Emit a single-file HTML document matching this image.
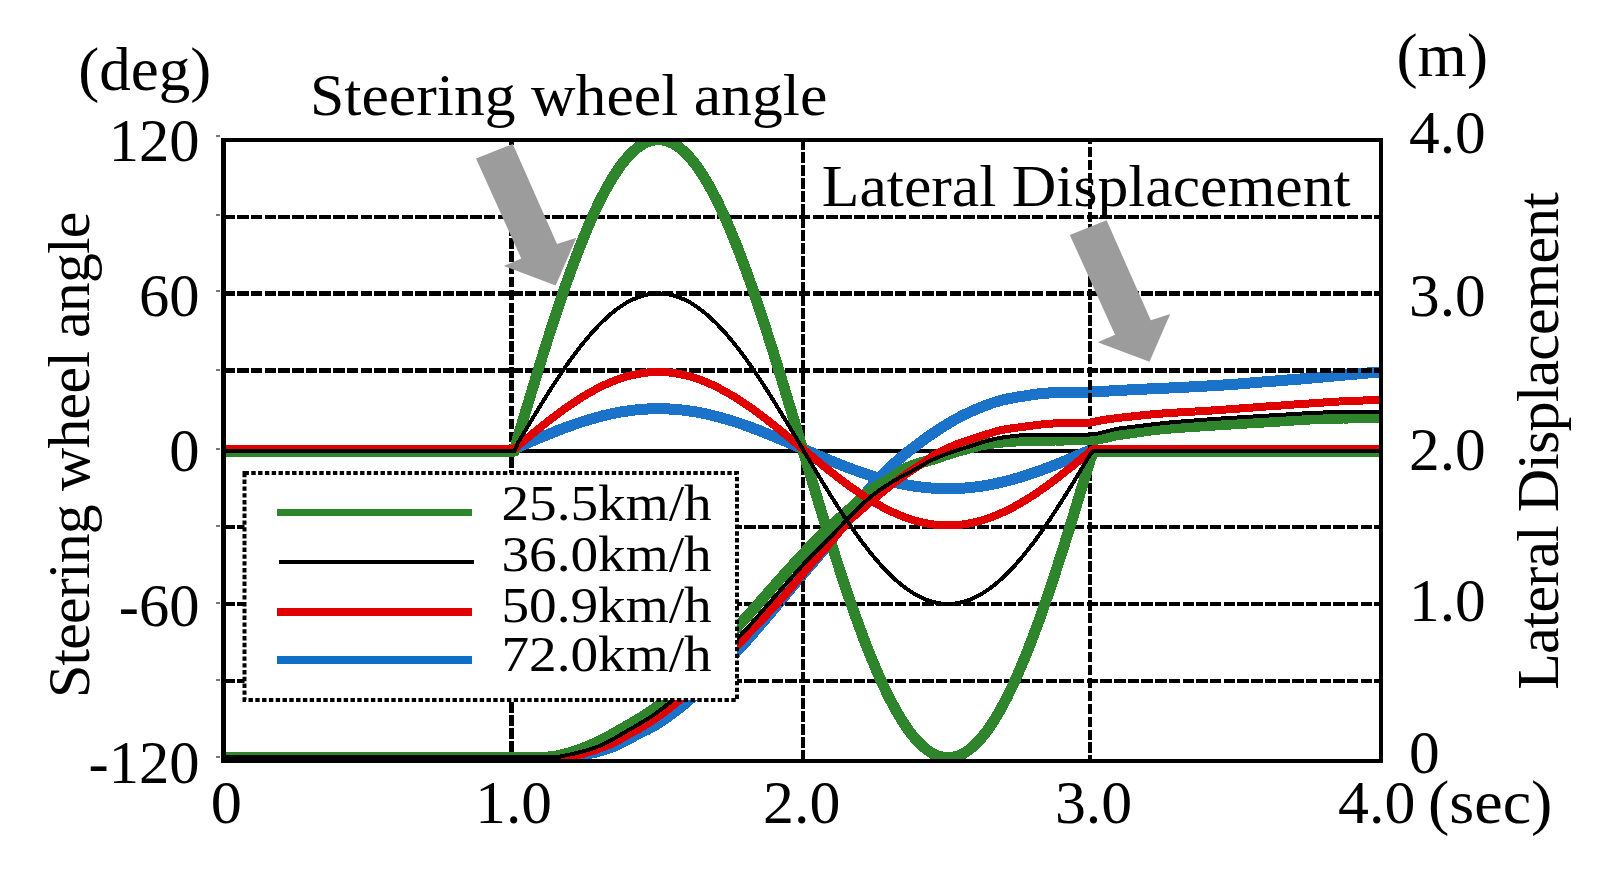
<!DOCTYPE html>
<html lang="en"><head><meta charset="utf-8"><title>Steering wheel angle and lateral displacement</title>
<style>
html,body{margin:0;padding:0;background:#fff;}
body{width:1610px;height:876px;overflow:hidden;}
svg{display:block;}
text{font-family:"Liberation Serif","Times New Roman",serif;fill:#000;}
.t{font-size:60px;}
.lg{font-size:50px;}
.ln{fill:none;stroke-linejoin:round;stroke-linecap:butt;shape-rendering:crispEdges;}
</style></head><body>
<svg width="1610" height="876" viewBox="0 0 1610 876">
<rect x="0" y="0" width="1610" height="876" fill="#fff"/>
<defs><clipPath id="pc"><rect x="223.5" y="140" width="1157.5" height="621"/></clipPath></defs>
<line x1="223.5" y1="451.0" x2="1381.0" y2="451.0" stroke="#000" stroke-width="4" shape-rendering="crispEdges"/>
<g clip-path="url(#pc)">
<polyline class="ln" stroke="#1a72c9" stroke-width="11" points="223.5,757.0 227.5,757.0 231.5,757.0 235.5,757.0 239.5,757.0 243.5,757.0 247.5,757.0 251.5,757.0 255.5,757.0 259.5,757.0 263.5,757.0 267.5,757.0 271.5,757.0 275.5,757.0 279.5,757.0 283.5,757.0 287.5,757.0 291.5,757.0 295.5,757.0 299.5,757.0 303.5,757.0 307.5,757.0 311.5,757.0 315.5,757.0 319.5,757.0 323.5,757.0 327.5,757.0 331.5,757.0 335.5,757.0 339.5,757.0 343.5,757.0 347.5,757.0 351.5,757.0 355.5,757.0 359.5,757.0 363.5,757.0 367.5,757.0 371.5,757.0 375.5,757.0 379.5,757.0 383.5,757.0 387.5,757.0 391.5,757.0 395.5,757.0 399.5,757.0 403.5,757.0 407.5,757.0 411.5,757.0 415.5,757.0 419.5,757.0 423.5,757.0 427.5,757.0 431.5,757.0 435.5,757.0 439.5,757.0 443.5,757.0 447.5,757.0 451.5,757.0 455.5,757.0 459.5,757.0 463.5,757.0 467.5,757.0 471.5,757.0 475.5,757.0 479.5,757.0 483.5,757.0 487.5,757.0 491.5,757.0 495.5,757.0 499.5,757.0 503.5,757.0 507.5,757.0 511.5,757.0 515.5,757.0 519.5,757.0 523.5,757.0 527.5,757.0 531.5,757.0 535.5,757.0 539.5,757.0 543.5,757.0 547.5,757.0 551.5,757.0 555.5,757.0 559.5,757.0 563.5,757.0 567.5,757.0 570.0,757.0 571.5,757.0 575.5,756.5 579.5,755.7 583.5,754.8 585.0,754.5 587.5,754.0 591.5,753.1 595.5,752.1 599.5,751.0 603.5,749.8 607.5,748.5 611.5,747.2 612.0,747.0 615.5,745.6 619.5,743.8 623.5,741.8 627.5,739.7 631.5,737.5 635.5,735.3 639.5,733.3 640.0,733.0 643.5,731.3 647.5,729.4 651.5,727.3 652.0,727.0 655.5,724.9 659.5,722.5 663.5,719.8 667.5,717.0 671.5,714.1 675.5,711.1 679.5,708.0 682.0,706.0 683.5,704.8 687.5,701.4 691.5,697.9 695.5,694.2 699.5,690.4 703.5,686.5 707.5,682.5 711.5,678.4 715.5,674.2 719.5,670.0 723.5,665.7 727.5,661.4 731.5,657.1 735.5,652.8 739.0,649.0 739.5,648.5 743.5,644.1 747.5,639.7 751.5,635.1 755.5,630.6 759.5,625.9 763.5,621.2 767.5,616.5 771.5,611.8 775.5,607.0 779.5,602.2 783.5,597.4 787.5,592.5 791.5,587.7 795.5,582.9 799.5,578.2 803.0,574.0 803.5,573.4 807.5,568.7 811.5,564.1 815.5,559.4 819.5,554.7 823.5,549.9 827.5,544.9 829.0,543.0 831.5,539.7 835.5,534.3 839.5,528.8 843.5,523.2 847.5,517.7 848.0,517.0 851.5,512.2 855.5,506.8 859.5,501.3 863.5,496.1 867.5,491.1 867.6,491.0 871.5,486.4 875.5,481.9 879.5,477.6 883.5,473.5 887.0,470.0 887.5,469.5 891.5,465.8 895.5,462.2 899.5,458.8 903.5,455.4 906.4,453.0 907.5,452.1 911.4,449.0 911.5,448.9 915.5,445.9 919.5,442.9 923.5,439.9 927.5,437.1 931.5,434.3 934.2,432.5 935.5,431.6 939.5,429.0 943.5,426.4 947.5,424.0 951.5,421.6 955.5,419.3 957.0,418.5 959.5,417.2 963.5,415.1 967.5,413.2 971.5,411.3 975.5,409.5 979.5,407.9 979.9,407.7 983.5,406.3 987.5,404.8 991.5,403.3 995.5,402.0 999.5,400.8 1002.7,400.0 1003.5,399.8 1007.5,398.9 1011.5,398.1 1015.5,397.4 1019.5,396.7 1023.5,396.1 1025.5,395.8 1027.5,395.5 1031.5,394.9 1035.5,394.3 1039.5,393.8 1043.5,393.4 1047.5,393.1 1048.4,393.0 1051.5,392.8 1055.5,392.7 1059.5,392.5 1063.5,392.4 1065.0,392.4 1067.5,392.3 1071.5,392.3 1075.5,392.2 1079.5,392.2 1083.5,392.1 1087.5,392.1 1090.0,392.0 1091.5,392.0 1095.5,391.8 1099.5,391.6 1103.5,391.3 1107.5,391.1 1111.5,390.8 1115.5,390.6 1118.5,390.4 1119.5,390.3 1123.5,390.1 1127.5,390.0 1131.5,389.8 1135.5,389.6 1139.5,389.4 1143.5,389.2 1147.5,389.0 1151.5,388.9 1155.5,388.7 1159.5,388.5 1163.5,388.3 1167.5,388.1 1171.5,387.9 1175.5,387.7 1179.5,387.5 1180.0,387.5 1183.5,387.3 1187.5,387.1 1191.5,386.9 1195.5,386.7 1199.5,386.4 1203.5,386.2 1207.5,386.0 1211.5,385.7 1215.5,385.5 1219.5,385.3 1223.5,385.0 1227.5,384.7 1228.0,384.7 1231.5,384.5 1235.5,384.2 1239.5,383.9 1243.5,383.5 1247.5,383.2 1251.5,382.9 1255.5,382.6 1259.5,382.2 1263.5,381.9 1264.8,381.8 1267.5,381.6 1271.5,381.3 1275.5,381.0 1279.5,380.7 1283.5,380.3 1287.5,380.0 1291.5,379.7 1295.5,379.4 1299.5,379.1 1301.4,378.9 1303.5,378.7 1307.5,378.4 1311.5,378.0 1315.5,377.6 1319.5,377.3 1323.5,376.9 1327.5,376.5 1331.5,376.2 1335.5,375.8 1339.5,375.4 1340.0,375.4 1343.5,375.1 1347.5,374.7 1351.5,374.4 1355.5,374.1 1359.5,373.7 1363.5,373.4 1367.5,373.0 1371.5,372.7 1375.5,372.4 1379.5,372.0 1381.0,371.9"/>
<polyline class="ln" stroke="#1a72c9" stroke-width="11" points="223.5,450.5 514.5,450.5 518.1,447.1 521.7,445.6 525.3,444.0 529.0,442.4 532.6,440.9 536.2,439.4 539.8,437.8 543.4,436.3 547.0,434.9 550.6,433.4 554.2,432.0 557.8,430.5 561.4,429.2 565.0,427.8 568.6,426.5 572.2,425.2 575.8,423.9 579.4,422.7 583.0,421.5 586.6,420.4 590.2,419.3 593.8,418.3 597.4,417.3 601.0,416.3 604.6,415.4 608.2,414.6 611.7,413.8 615.3,413.1 618.9,412.4 622.5,411.7 626.1,411.2 629.7,410.7 633.3,410.2 636.9,409.8 640.5,409.5 644.1,409.2 647.7,409.0 651.3,408.8 654.9,408.7 658.5,408.7 662.1,408.7 665.7,408.8 669.3,409.0 672.9,409.2 676.5,409.5 680.1,409.8 683.7,410.2 687.3,410.7 690.9,411.2 694.5,411.7 698.1,412.4 701.7,413.1 705.2,413.8 708.8,414.6 712.4,415.4 716.0,416.3 719.6,417.3 723.2,418.3 726.8,419.3 730.4,420.4 734.0,421.5 737.6,422.7 741.2,423.9 744.8,425.2 748.4,426.5 752.0,427.8 755.6,429.2 759.2,430.5 762.8,432.0 766.4,433.4 770.0,434.9 773.6,436.3 777.2,437.8 780.8,439.4 784.4,440.9 788.0,442.4 791.7,444.0 795.3,445.6 798.9,447.1 802.5,448.7 806.1,450.3 809.7,451.8 813.4,453.4 817.0,455.0 820.6,456.5 824.2,458.0 827.9,459.6 831.5,461.1 835.1,462.5 838.8,464.0 842.4,465.4 846.0,466.9 849.7,468.2 853.3,469.6 857.0,470.9 860.6,472.2 864.2,473.5 867.9,474.7 871.5,475.9 875.2,477.0 878.8,478.1 882.4,479.1 886.1,480.1 889.7,481.1 893.4,482.0 897.0,482.8 900.7,483.6 904.3,484.3 907.9,485.0 911.6,485.7 915.2,486.2 918.9,486.7 922.5,487.2 926.2,487.6 929.8,487.9 933.4,488.2 937.1,488.4 940.7,488.6 944.4,488.7 948.0,488.7 951.6,488.7 955.3,488.6 958.9,488.4 962.6,488.2 966.2,487.9 969.8,487.6 973.5,487.2 977.1,486.7 980.8,486.2 984.4,485.7 988.1,485.0 991.7,484.3 995.3,483.6 999.0,482.8 1002.6,482.0 1006.3,481.1 1009.9,480.1 1013.6,479.1 1017.2,478.1 1020.8,477.0 1024.5,475.9 1028.1,474.7 1031.8,473.5 1035.4,472.2 1039.1,470.9 1042.7,469.6 1046.3,468.2 1050.0,466.9 1053.6,465.4 1057.2,464.0 1060.9,462.5 1064.5,461.1 1068.1,459.6 1071.8,458.0 1075.4,456.5 1079.0,455.0 1082.6,453.4 1086.3,451.8 1089.9,450.3 1093.5,450.5 1381.0,450.5"/>
</g>
<g stroke="#000" stroke-width="4" fill="none" shape-rendering="crispEdges">
<line x1="223.5" y1="217" x2="1379" y2="217" stroke-width="4" stroke-dasharray="11.5 2.2"/>
<line x1="223.5" y1="293.5" x2="1379" y2="293.5" stroke-width="5" stroke-dasharray="11.5 2.2"/>
<line x1="223.5" y1="370.5" x2="1379" y2="370.5" stroke-width="5" stroke-dasharray="11.5 2.2"/>
<line x1="223.5" y1="527" x2="1379" y2="527" stroke-width="4" stroke-dasharray="11.5 2.2"/>
<line x1="223.5" y1="604" x2="1379" y2="604" stroke-width="4" stroke-dasharray="11.5 2.2"/>
<line x1="223.5" y1="681" x2="1379" y2="681" stroke-width="4" stroke-dasharray="11.5 2.2"/>
<line x1="511.5" y1="139.5" x2="511.5" y2="759" stroke-width="5" stroke-dasharray="10.6 2.3" stroke-dashoffset="4.7"/>
<line x1="803" y1="139.5" x2="803" y2="759" stroke-width="4" stroke-dasharray="10.8 2.2" stroke-dashoffset="0.3"/>
<line x1="1090" y1="139.5" x2="1090" y2="759" stroke-width="4" stroke-dasharray="10.5 2.45" stroke-dashoffset="5.7"/>
</g>
<polygon fill="#9c9c9c" points="512.8,144.0 476.0,158.6 521.2,258.4 503.9,266.0 555.7,285.4 576.4,237.7 557.0,243.9"/>
<polygon fill="#9c9c9c" points="1106.6,220.3 1069.8,234.9 1115.0,334.7 1097.7,342.3 1149.5,361.7 1170.2,314.0 1150.8,320.2"/>
<g clip-path="url(#pc)">
<polyline class="ln" stroke="#2e852b" stroke-width="11" points="223.5,757.0 227.5,757.0 231.5,757.0 235.5,757.0 239.5,757.0 243.5,757.0 247.5,757.0 251.5,757.0 255.5,757.0 259.5,757.0 263.5,757.0 267.5,757.0 271.5,757.0 275.5,757.0 279.5,757.0 283.5,757.0 287.5,757.0 291.5,757.0 295.5,757.0 299.5,757.0 303.5,757.0 307.5,757.0 311.5,757.0 315.5,757.0 319.5,757.0 323.5,757.0 327.5,757.0 331.5,757.0 335.5,757.0 339.5,757.0 343.5,757.0 347.5,757.0 351.5,757.0 355.5,757.0 359.5,757.0 363.5,757.0 367.5,757.0 371.5,757.0 375.5,757.0 379.5,757.0 383.5,757.0 387.5,757.0 391.5,757.0 395.5,757.0 399.5,757.0 403.5,757.0 407.5,757.0 411.5,757.0 415.5,757.0 419.5,757.0 423.5,757.0 427.5,757.0 431.5,757.0 435.5,757.0 439.5,757.0 443.5,757.0 447.5,757.0 451.5,757.0 455.5,757.0 459.5,757.0 463.5,757.0 467.5,757.0 471.5,757.0 475.5,757.0 479.5,757.0 483.5,757.0 487.5,757.0 491.5,757.0 495.5,757.0 499.5,757.0 503.5,757.0 507.5,757.0 511.5,757.0 515.5,757.0 519.5,757.0 523.5,757.0 527.5,757.0 531.5,757.0 535.5,757.0 539.5,757.0 543.5,757.0 547.5,757.0 548.0,757.0 551.5,756.8 555.5,756.2 559.5,755.3 563.0,754.5 563.5,754.4 567.5,753.4 571.5,752.2 575.5,750.9 579.5,749.5 583.5,747.9 587.5,746.3 591.5,744.6 593.0,744.0 595.5,742.9 599.5,741.0 603.5,739.0 607.5,736.8 611.5,734.6 615.5,732.3 619.5,730.0 623.0,728.0 623.5,727.7 627.5,725.5 631.5,723.2 635.5,720.8 639.5,718.4 643.5,715.9 647.5,713.3 648.0,713.0 651.5,710.6 655.5,707.8 659.5,704.8 663.5,701.8 667.5,698.6 671.5,695.3 673.0,694.0 675.5,691.8 679.5,688.2 683.5,684.5 687.5,680.6 691.5,676.6 695.5,672.5 699.5,668.4 703.5,664.1 707.5,659.8 711.5,655.5 715.5,651.1 719.5,646.7 723.5,642.2 727.5,637.8 731.5,633.4 735.5,629.0 739.0,625.2 739.5,624.7 743.5,620.3 747.5,615.9 751.5,611.4 755.5,606.9 759.5,602.4 763.5,597.8 767.5,593.3 771.5,588.7 775.5,584.2 779.5,579.7 783.5,575.2 787.5,570.8 790.0,568.0 791.5,566.4 795.5,562.0 799.5,557.6 803.0,553.9 803.5,553.4 807.5,549.2 811.5,545.1 815.5,541.0 819.5,537.0 823.5,533.1 827.5,529.2 828.8,528.0 831.5,525.5 835.5,521.8 839.5,518.2 843.5,514.6 847.5,511.0 850.3,508.5 851.5,507.4 855.5,503.7 859.5,499.9 863.5,496.2 867.5,492.7 870.8,490.2 871.5,489.7 875.5,487.1 879.5,484.7 883.5,482.5 887.5,480.2 891.4,477.9 891.5,477.8 895.5,475.1 899.5,472.3 903.5,469.6 906.8,467.8 907.5,467.5 911.5,465.9 915.5,464.5 918.0,463.7 919.5,463.2 923.5,462.0 927.5,460.9 931.5,459.8 932.4,459.5 935.5,458.5 939.5,457.1 943.5,455.7 947.5,454.4 951.5,453.1 953.0,452.6 955.5,451.9 959.5,450.7 963.5,449.7 967.5,448.6 971.5,447.5 973.5,447.0 975.5,446.4 979.5,445.3 979.9,445.2 983.5,444.5 987.5,443.8 991.5,443.3 995.5,442.7 999.5,442.3 1002.7,442.0 1003.5,441.9 1007.5,441.6 1011.5,441.3 1015.5,441.0 1019.5,440.7 1023.5,440.6 1025.5,440.5 1027.5,440.5 1031.5,440.4 1035.5,440.3 1039.5,440.2 1043.5,440.2 1047.5,440.1 1051.5,440.1 1055.5,440.0 1059.5,440.0 1060.0,440.0 1063.5,440.0 1067.5,439.9 1071.5,439.9 1075.5,439.9 1079.5,439.9 1083.5,439.9 1087.5,439.8 1090.0,439.8 1091.5,439.8 1095.5,439.4 1099.5,438.7 1103.5,437.9 1107.5,437.0 1111.5,436.0 1115.5,435.1 1118.5,434.6 1119.5,434.4 1123.5,433.8 1127.5,433.3 1131.5,432.7 1135.5,432.2 1136.0,432.1 1139.5,431.6 1143.5,431.0 1147.5,430.4 1151.5,429.8 1155.5,429.4 1157.0,429.2 1159.5,429.0 1163.5,428.6 1167.5,428.3 1171.5,427.9 1175.5,427.7 1179.5,427.4 1183.5,427.1 1187.5,426.8 1191.5,426.6 1195.5,426.3 1199.5,426.0 1203.5,425.8 1207.5,425.5 1211.5,425.2 1215.5,425.0 1219.5,424.7 1223.5,424.5 1227.5,424.2 1231.5,424.0 1235.5,423.7 1239.5,423.5 1243.5,423.2 1247.5,423.0 1251.5,422.8 1255.5,422.5 1259.5,422.3 1263.5,422.0 1267.5,421.8 1271.5,421.6 1272.5,421.5 1275.5,421.3 1279.5,421.0 1283.5,420.8 1287.5,420.5 1291.5,420.2 1295.5,419.9 1299.5,419.6 1303.5,419.4 1307.5,419.2 1311.5,418.9 1315.5,418.8 1319.5,418.6 1320.7,418.6 1323.5,418.5 1327.5,418.4 1331.5,418.3 1335.5,418.2 1339.5,418.1 1343.5,418.0 1347.5,418.0 1351.5,417.9 1355.5,417.8 1359.5,417.8 1363.5,417.7 1367.5,417.7 1371.5,417.6 1375.5,417.6 1379.5,417.6 1381.0,417.6"/>
<polyline class="ln" stroke="#2e852b" stroke-width="11" points="223.5,451.0 514.5,451.0 518.1,436.6 521.7,424.5 525.3,412.4 529.0,400.4 532.6,388.4 536.2,376.6 539.8,364.8 543.4,353.2 547.0,341.7 550.6,330.5 554.2,319.3 557.8,308.4 561.4,297.7 565.0,287.2 568.6,277.0 572.2,267.1 575.8,257.4 579.4,248.0 583.0,239.0 586.6,230.2 590.2,221.8 593.8,213.7 597.4,206.0 601.0,198.7 604.6,191.8 608.2,185.2 611.7,179.1 615.3,173.4 618.9,168.1 622.5,163.2 626.1,158.8 629.7,154.8 633.3,151.3 636.9,148.2 640.5,145.6 644.1,143.5 647.7,141.8 651.3,140.7 654.9,139.9 658.5,139.7 662.1,139.9 665.7,140.7 669.3,141.8 672.9,143.5 676.5,145.6 680.1,148.2 683.7,151.3 687.3,154.8 690.9,158.8 694.5,163.2 698.1,168.1 701.7,173.4 705.2,179.1 708.8,185.2 712.4,191.8 716.0,198.7 719.6,206.0 723.2,213.7 726.8,221.8 730.4,230.2 734.0,239.0 737.6,248.0 741.2,257.4 744.8,267.1 748.4,277.0 752.0,287.2 755.6,297.7 759.2,308.4 762.8,319.3 766.4,330.5 770.0,341.7 773.6,353.2 777.2,364.8 780.8,376.6 784.4,388.4 788.0,400.4 791.7,412.4 795.3,424.5 798.9,436.6 802.5,448.7 806.1,460.8 809.7,472.9 813.4,485.0 817.0,497.0 820.6,509.0 824.2,520.8 827.9,532.6 831.5,544.2 835.1,555.7 838.8,566.9 842.4,578.1 846.0,589.0 849.7,599.7 853.3,610.2 857.0,620.4 860.6,630.3 864.2,640.0 867.9,649.4 871.5,658.4 875.2,667.2 878.8,675.6 882.4,683.7 886.1,691.4 889.7,698.7 893.4,705.6 897.0,712.2 900.7,718.3 904.3,724.0 907.9,729.3 911.6,734.2 915.2,738.6 918.9,742.6 922.5,746.1 926.2,749.2 929.8,751.8 933.4,753.9 937.1,755.6 940.7,756.7 944.4,757.5 948.0,757.7 951.6,757.5 955.3,756.7 958.9,755.6 962.6,753.9 966.2,751.8 969.8,749.2 973.5,746.1 977.1,742.6 980.8,738.6 984.4,734.2 988.1,729.3 991.7,724.0 995.3,718.3 999.0,712.2 1002.6,705.6 1006.3,698.7 1009.9,691.4 1013.6,683.7 1017.2,675.6 1020.8,667.2 1024.5,658.4 1028.1,649.4 1031.8,640.0 1035.4,630.3 1039.1,620.4 1042.7,610.2 1046.3,599.7 1050.0,589.0 1053.6,578.1 1057.2,566.9 1060.9,555.7 1064.5,544.2 1068.1,532.6 1071.8,520.8 1075.4,509.0 1079.0,497.0 1082.6,485.0 1086.3,472.9 1089.9,460.8 1093.5,451.0 1381.0,451.0"/>
<polyline class="ln" stroke="#e00000" stroke-width="8" points="223.5,759.0 227.5,759.0 231.5,759.0 235.5,759.0 239.5,759.0 243.5,759.0 247.5,759.0 251.5,759.0 255.5,759.0 259.5,759.0 263.5,759.0 267.5,759.0 271.5,759.0 275.5,759.0 279.5,759.0 283.5,759.0 287.5,759.0 291.5,759.0 295.5,759.0 299.5,759.0 303.5,759.0 307.5,759.0 311.5,759.0 315.5,759.0 319.5,759.0 323.5,759.0 327.5,759.0 331.5,759.0 335.5,759.0 339.5,759.0 343.5,759.0 347.5,759.0 351.5,759.0 355.5,759.0 359.5,759.0 363.5,759.0 367.5,759.0 371.5,759.0 375.5,759.0 379.5,759.0 383.5,759.0 387.5,759.0 391.5,759.0 395.5,759.0 399.5,759.0 403.5,759.0 407.5,759.0 411.5,759.0 415.5,759.0 419.5,759.0 423.5,759.0 427.5,759.0 431.5,759.0 435.5,759.0 439.5,759.0 443.5,759.0 447.5,759.0 451.5,759.0 455.5,759.0 459.5,759.0 463.5,759.0 467.5,759.0 471.5,759.0 475.5,759.0 479.5,759.0 483.5,759.0 487.5,759.0 491.5,759.0 495.5,759.0 499.5,759.0 503.5,759.0 507.5,759.0 511.5,759.0 515.5,759.0 519.5,759.0 523.5,759.0 527.5,759.0 531.5,759.0 535.5,759.0 539.5,759.0 543.5,759.0 547.5,759.0 551.5,759.0 555.5,759.0 559.5,759.0 562.0,759.0 563.5,758.9 567.5,758.3 571.5,757.2 575.5,755.9 577.0,755.5 579.5,754.8 583.5,753.7 587.5,752.5 591.5,751.3 595.5,750.0 599.5,748.6 603.5,747.1 605.0,746.5 607.5,745.5 611.5,743.7 615.5,741.7 619.5,739.6 623.5,737.4 627.5,735.1 631.5,732.9 634.0,731.5 635.5,730.7 639.5,728.5 643.5,726.2 647.5,723.8 651.5,721.3 652.0,721.0 655.5,718.7 659.5,715.8 663.5,712.9 667.5,709.8 671.5,706.7 675.5,703.4 676.0,703.0 679.5,700.1 683.5,696.7 687.5,693.2 691.5,689.6 695.5,686.0 699.5,682.3 703.5,678.5 707.5,674.7 711.5,670.8 715.5,666.9 719.5,663.0 723.5,659.0 727.5,655.0 731.5,651.0 735.5,647.0 738.5,644.0 739.5,643.0 743.5,638.9 747.5,634.9 751.5,630.7 755.5,626.6 759.5,622.4 763.5,618.1 767.5,613.8 771.5,609.5 775.5,605.2 779.5,600.8 783.5,596.3 787.5,591.8 790.0,589.0 791.5,587.3 795.5,582.6 799.5,577.8 803.5,572.9 807.5,568.2 809.4,566.0 811.5,563.6 815.5,559.2 819.5,554.8 823.5,550.4 827.5,546.0 828.8,544.5 831.5,541.4 835.5,536.6 839.5,531.8 843.5,527.1 847.5,522.7 848.2,522.0 851.5,518.7 855.5,515.0 859.5,511.5 863.5,508.0 867.5,504.6 867.6,504.5 871.5,501.2 875.5,497.8 879.5,494.5 883.5,491.3 887.0,488.5 887.5,488.1 891.5,485.0 895.5,482.0 899.5,479.0 903.5,476.1 906.4,474.0 907.5,473.2 911.5,470.5 915.5,467.9 919.5,465.2 923.5,462.6 925.8,461.0 927.5,459.8 931.5,456.8 934.2,455.0 935.5,454.3 939.5,452.2 943.5,450.3 945.2,449.5 947.5,448.4 951.5,446.5 955.5,444.8 957.0,444.2 959.5,443.2 963.5,441.8 967.5,440.5 971.5,439.2 973.5,438.5 975.5,437.8 979.5,436.5 979.9,436.4 983.5,435.3 987.5,434.0 991.5,432.8 995.5,431.6 999.5,430.6 1002.7,429.9 1003.5,429.7 1007.5,429.0 1011.5,428.4 1015.5,427.8 1019.5,427.3 1023.5,426.8 1025.5,426.5 1027.5,426.2 1031.5,425.7 1035.5,425.2 1039.5,424.7 1043.5,424.2 1047.5,423.9 1048.4,423.8 1051.5,423.6 1055.5,423.4 1059.5,423.2 1060.0,423.2 1063.5,423.2 1067.5,423.1 1071.5,423.1 1075.5,423.1 1079.5,423.1 1083.5,423.0 1085.0,423.0 1087.5,422.9 1091.5,422.3 1095.5,421.6 1099.5,420.7 1103.5,419.9 1105.0,419.7 1107.5,419.4 1111.5,418.8 1115.5,418.3 1119.5,417.8 1123.5,417.3 1127.5,416.9 1131.5,416.5 1132.0,416.4 1135.5,416.0 1139.5,415.6 1143.5,415.2 1147.5,414.8 1151.5,414.4 1155.5,414.1 1159.5,413.8 1162.8,413.5 1163.5,413.4 1167.5,413.2 1171.5,412.9 1175.5,412.6 1179.5,412.4 1183.5,412.1 1187.5,411.9 1191.5,411.7 1195.5,411.5 1199.5,411.2 1203.5,411.0 1207.5,410.8 1211.5,410.5 1214.8,410.3 1215.5,410.3 1219.5,410.0 1223.5,409.7 1227.5,409.4 1231.5,409.1 1235.5,408.8 1239.5,408.5 1243.5,408.2 1247.5,407.9 1251.5,407.6 1255.5,407.3 1257.0,407.2 1259.5,407.0 1263.5,406.7 1267.5,406.4 1271.5,406.1 1275.5,405.8 1279.5,405.6 1283.5,405.3 1287.5,405.0 1291.5,404.7 1295.5,404.4 1299.5,404.2 1303.3,403.9 1303.5,403.9 1307.5,403.6 1311.5,403.3 1315.5,403.1 1319.5,402.8 1323.5,402.5 1327.5,402.2 1331.5,402.0 1335.5,401.7 1339.5,401.5 1343.5,401.2 1347.5,401.0 1351.5,400.9 1355.5,400.7 1359.0,400.6 1359.5,400.6 1363.5,400.5 1367.5,400.4 1371.5,400.3 1375.5,400.3 1379.5,400.2 1381.0,400.2"/>
<polyline class="ln" stroke="#e00000" stroke-width="8" points="223.5,449.0 514.5,449.0 518.1,445.7 521.7,442.7 525.3,439.7 529.0,436.7 532.6,433.7 536.2,430.8 539.8,427.9 543.4,425.0 547.0,422.2 550.6,419.3 554.2,416.6 557.8,413.9 561.4,411.2 565.0,408.6 568.6,406.1 572.2,403.6 575.8,401.2 579.4,398.9 583.0,396.6 586.6,394.5 590.2,392.4 593.8,390.4 597.4,388.5 601.0,386.6 604.6,384.9 608.2,383.3 611.7,381.8 615.3,380.4 618.9,379.0 622.5,377.8 626.1,376.7 629.7,375.8 633.3,374.9 636.9,374.1 640.5,373.5 644.1,372.9 647.7,372.5 651.3,372.2 654.9,372.1 658.5,372.0 662.1,372.1 665.7,372.2 669.3,372.5 672.9,372.9 676.5,373.5 680.1,374.1 683.7,374.9 687.3,375.8 690.9,376.7 694.5,377.8 698.1,379.0 701.7,380.4 705.2,381.8 708.8,383.3 712.4,384.9 716.0,386.6 719.6,388.5 723.2,390.4 726.8,392.4 730.4,394.5 734.0,396.6 737.6,398.9 741.2,401.2 744.8,403.6 748.4,406.1 752.0,408.6 755.6,411.2 759.2,413.9 762.8,416.6 766.4,419.3 770.0,422.2 773.6,425.0 777.2,427.9 780.8,430.8 784.4,433.7 788.0,436.7 791.7,439.7 795.3,442.7 798.9,445.7 802.5,448.7 806.1,451.7 809.7,454.7 813.4,457.7 817.0,460.7 820.6,463.7 824.2,466.6 827.9,469.5 831.5,472.4 835.1,475.2 838.8,478.1 842.4,480.8 846.0,483.5 849.7,486.2 853.3,488.8 857.0,491.3 860.6,493.8 864.2,496.2 867.9,498.5 871.5,500.8 875.2,502.9 878.8,505.0 882.4,507.0 886.1,508.9 889.7,510.8 893.4,512.5 897.0,514.1 900.7,515.6 904.3,517.0 907.9,518.4 911.6,519.6 915.2,520.7 918.9,521.6 922.5,522.5 926.2,523.3 929.8,523.9 933.4,524.5 937.1,524.9 940.7,525.2 944.4,525.3 948.0,525.4 951.6,525.3 955.3,525.2 958.9,524.9 962.6,524.5 966.2,523.9 969.8,523.3 973.5,522.5 977.1,521.6 980.8,520.7 984.4,519.6 988.1,518.4 991.7,517.0 995.3,515.6 999.0,514.1 1002.6,512.5 1006.3,510.8 1009.9,508.9 1013.6,507.0 1017.2,505.0 1020.8,502.9 1024.5,500.8 1028.1,498.5 1031.8,496.2 1035.4,493.8 1039.1,491.3 1042.7,488.8 1046.3,486.2 1050.0,483.5 1053.6,480.8 1057.2,478.1 1060.9,475.2 1064.5,472.4 1068.1,469.5 1071.8,466.6 1075.4,463.7 1079.0,460.7 1082.6,457.7 1086.3,454.7 1089.9,451.7 1093.5,449.0 1381.0,449.0"/>
<polyline class="ln" stroke="#000" stroke-width="4" points="223.5,757.0 227.5,757.0 231.5,757.0 235.5,757.0 239.5,757.0 243.5,757.0 247.5,757.0 251.5,757.0 255.5,757.0 259.5,757.0 263.5,757.0 267.5,757.0 271.5,757.0 275.5,757.0 279.5,757.0 283.5,757.0 287.5,757.0 291.5,757.0 295.5,757.0 299.5,757.0 303.5,757.0 307.5,757.0 311.5,757.0 315.5,757.0 319.5,757.0 323.5,757.0 327.5,757.0 331.5,757.0 335.5,757.0 339.5,757.0 343.5,757.0 347.5,757.0 351.5,757.0 355.5,757.0 359.5,757.0 363.5,757.0 367.5,757.0 371.5,757.0 375.5,757.0 379.5,757.0 383.5,757.0 387.5,757.0 391.5,757.0 395.5,757.0 399.5,757.0 403.5,757.0 407.5,757.0 411.5,757.0 415.5,757.0 419.5,757.0 423.5,757.0 427.5,757.0 431.5,757.0 435.5,757.0 439.5,757.0 443.5,757.0 447.5,757.0 451.5,757.0 455.5,757.0 459.5,757.0 463.5,757.0 467.5,757.0 471.5,757.0 475.5,757.0 479.5,757.0 483.5,757.0 487.5,757.0 491.5,757.0 495.5,757.0 499.5,757.0 503.5,757.0 507.5,757.0 511.5,757.0 515.5,757.0 519.5,757.0 523.5,757.0 527.5,757.0 531.5,757.0 535.5,757.0 539.5,757.0 543.5,757.0 547.5,757.0 551.5,757.0 555.0,757.0 555.5,757.0 559.5,756.7 563.5,755.9 567.5,755.0 570.0,754.5 571.5,754.2 575.5,753.3 579.5,752.3 583.5,751.2 587.5,750.1 591.5,748.8 595.5,747.4 598.0,746.5 599.5,745.9 603.5,744.2 607.5,742.2 611.5,740.0 615.5,737.7 619.5,735.4 623.5,733.0 627.0,731.0 627.5,730.7 631.5,728.5 635.5,726.2 639.5,723.8 643.5,721.4 647.5,718.9 651.5,716.3 652.0,716.0 655.5,713.6 659.5,710.7 663.5,707.6 667.5,704.4 670.0,702.4 671.5,701.2 675.5,697.8 679.5,694.4 683.5,690.9 687.5,687.3 691.5,683.7 695.5,680.0 699.5,676.3 703.5,672.5 707.5,668.6 711.5,664.7 715.5,660.8 719.5,656.8 723.5,652.8 727.5,648.8 731.5,644.7 735.5,640.6 738.5,637.5 739.5,636.5 743.5,632.2 747.5,627.9 751.5,623.5 755.5,619.0 759.5,614.4 763.5,609.8 767.5,605.2 771.5,600.6 775.5,595.9 779.5,591.3 783.5,586.7 787.5,582.2 790.0,579.4 791.5,577.7 795.5,573.2 799.5,568.8 803.5,564.3 807.5,560.0 809.4,558.0 811.5,555.8 815.5,551.8 819.5,547.9 823.5,544.0 827.5,540.0 828.8,538.7 831.5,535.9 835.5,531.7 839.5,527.5 843.5,523.3 847.5,519.1 850.3,516.3 851.5,515.1 855.5,511.1 859.5,507.1 863.5,503.2 867.5,499.6 870.8,496.8 871.5,496.2 875.5,493.1 879.5,490.2 883.5,487.5 887.5,484.9 891.4,482.4 891.5,482.3 895.5,480.0 899.5,477.7 903.5,475.6 907.5,473.5 911.5,471.3 911.9,471.1 915.5,469.1 919.5,466.8 923.5,464.5 927.5,462.2 931.5,460.2 932.4,459.8 935.5,458.4 939.5,456.7 943.5,455.1 947.5,453.6 951.5,452.1 953.0,451.6 955.5,450.8 959.5,449.5 963.5,448.3 967.5,447.1 971.5,445.8 973.5,445.2 975.5,444.5 979.5,443.1 979.9,443.0 983.5,442.0 987.5,440.8 991.5,439.8 995.5,438.8 999.5,438.0 1002.7,437.5 1003.5,437.4 1007.5,436.8 1011.5,436.3 1015.5,435.8 1019.5,435.5 1023.5,435.2 1025.5,435.2 1027.5,435.2 1031.5,435.1 1035.5,435.1 1039.5,435.1 1043.5,435.1 1047.5,435.1 1051.5,435.1 1055.5,435.0 1059.5,435.0 1060.0,435.0 1063.5,435.0 1067.5,434.9 1071.5,434.9 1075.5,434.8 1079.5,434.8 1083.5,434.7 1087.5,434.6 1090.0,434.5 1091.5,434.4 1095.5,433.9 1099.5,433.2 1103.5,432.2 1107.5,431.1 1111.5,430.1 1115.5,429.1 1118.5,428.6 1119.5,428.4 1123.5,427.9 1127.5,427.4 1131.5,426.9 1135.5,426.4 1139.5,426.0 1143.5,425.5 1147.5,425.0 1151.5,424.5 1155.5,424.0 1159.5,423.6 1163.5,423.1 1166.6,422.8 1167.5,422.7 1171.5,422.3 1175.5,422.0 1179.5,421.6 1183.5,421.3 1187.5,421.0 1191.5,420.7 1195.5,420.4 1199.5,420.1 1203.5,419.8 1207.5,419.5 1211.5,419.2 1215.5,418.9 1219.5,418.6 1223.5,418.4 1224.4,418.3 1227.5,418.1 1231.5,417.8 1235.5,417.6 1239.5,417.3 1243.5,417.0 1247.5,416.8 1251.5,416.6 1255.5,416.3 1259.5,416.1 1263.5,415.8 1267.5,415.6 1271.5,415.4 1275.5,415.2 1276.4,415.1 1279.5,414.9 1283.5,414.7 1287.5,414.4 1291.5,414.2 1295.5,413.9 1299.5,413.7 1303.5,413.4 1307.5,413.2 1311.5,413.0 1315.5,412.8 1319.5,412.6 1323.5,412.5 1327.5,412.4 1330.3,412.3 1331.5,412.3 1335.5,412.2 1339.5,412.2 1343.5,412.1 1347.5,412.0 1351.5,412.0 1355.5,411.9 1359.5,411.9 1363.5,411.9 1367.5,411.8 1371.5,411.8 1375.5,411.8 1379.5,411.8 1381.0,411.8"/>
<polyline class="ln" stroke="#000" stroke-width="4" points="223.5,451.0 514.5,451.0 518.1,442.6 521.7,436.5 525.3,430.5 529.0,424.4 532.6,418.4 536.2,412.5 539.8,406.6 543.4,400.7 547.0,395.0 550.6,389.3 554.2,383.7 557.8,378.2 561.4,372.8 565.0,367.6 568.6,362.4 572.2,357.4 575.8,352.6 579.4,347.9 583.0,343.3 586.6,338.9 590.2,334.7 593.8,330.6 597.4,326.8 601.0,323.1 604.6,319.6 608.2,316.3 611.7,313.2 615.3,310.4 618.9,307.7 622.5,305.3 626.1,303.0 629.7,301.0 633.3,299.3 636.9,297.7 640.5,296.4 644.1,295.4 647.7,294.5 651.3,293.9 654.9,293.6 658.5,293.4 662.1,293.6 665.7,293.9 669.3,294.5 672.9,295.4 676.5,296.4 680.1,297.7 683.7,299.3 687.3,301.0 690.9,303.0 694.5,305.3 698.1,307.7 701.7,310.4 705.2,313.2 708.8,316.3 712.4,319.6 716.0,323.1 719.6,326.8 723.2,330.6 726.8,334.7 730.4,338.9 734.0,343.3 737.6,347.9 741.2,352.6 744.8,357.4 748.4,362.4 752.0,367.6 755.6,372.8 759.2,378.2 762.8,383.7 766.4,389.3 770.0,395.0 773.6,400.7 777.2,406.6 780.8,412.5 784.4,418.4 788.0,424.4 791.7,430.5 795.3,436.5 798.9,442.6 802.5,448.7 806.1,454.8 809.7,460.9 813.4,466.9 817.0,473.0 820.6,479.0 824.2,484.9 827.9,490.8 831.5,496.7 835.1,502.4 838.8,508.1 842.4,513.7 846.0,519.2 849.7,524.6 853.3,529.8 857.0,535.0 860.6,540.0 864.2,544.8 867.9,549.5 871.5,554.1 875.2,558.5 878.8,562.7 882.4,566.8 886.1,570.6 889.7,574.3 893.4,577.8 897.0,581.1 900.7,584.2 904.3,587.0 907.9,589.7 911.6,592.1 915.2,594.4 918.9,596.4 922.5,598.1 926.2,599.7 929.8,601.0 933.4,602.0 937.1,602.9 940.7,603.5 944.4,603.8 948.0,604.0 951.6,603.8 955.3,603.5 958.9,602.9 962.6,602.0 966.2,601.0 969.8,599.7 973.5,598.1 977.1,596.4 980.8,594.4 984.4,592.1 988.1,589.7 991.7,587.0 995.3,584.2 999.0,581.1 1002.6,577.8 1006.3,574.3 1009.9,570.6 1013.6,566.8 1017.2,562.7 1020.8,558.5 1024.5,554.1 1028.1,549.5 1031.8,544.8 1035.4,540.0 1039.1,535.0 1042.7,529.8 1046.3,524.6 1050.0,519.2 1053.6,513.7 1057.2,508.1 1060.9,502.4 1064.5,496.7 1068.1,490.8 1071.8,484.9 1075.4,479.0 1079.0,473.0 1082.6,466.9 1086.3,460.9 1089.9,454.8 1093.5,451.0 1381.0,451.0"/>
</g>
<rect x="244.5" y="473" width="492.5" height="227" fill="#fff" stroke="#000" stroke-width="4" stroke-dasharray="4.4 2.4"/>
<g shape-rendering="crispEdges">
<line x1="277" y1="512.5" x2="472" y2="512.5" stroke="#2e852b" stroke-width="7"/>
<line x1="279" y1="562" x2="474" y2="562" stroke="#000" stroke-width="4"/>
<line x1="277" y1="612" x2="472" y2="612" stroke="#e00000" stroke-width="8"/>
<line x1="277" y1="660" x2="472" y2="660" stroke="#0d70c6" stroke-width="8"/>
</g>
<text class="t" transform="translate(501.4,520) scale(0.9214,0.8615)">25.5km/h</text>
<text class="t" transform="translate(501.4,571) scale(0.9214,0.8615)">36.0km/h</text>
<text class="t" transform="translate(501.4,622) scale(0.9214,0.8615)">50.9km/h</text>
<text class="t" transform="translate(501.4,671) scale(0.9214,0.8615)">72.0km/h</text>
<g shape-rendering="crispEdges">
<rect x="224" y="140" width="1157" height="621" fill="none" stroke="#000" stroke-width="4"/>
<rect x="221" y="138" width="5" height="625" fill="#000"/>
</g>
<g fill="#777">
<rect x="216" y="135" width="4" height="2"/>
<rect x="216" y="214" width="4" height="2"/>
<rect x="216" y="290" width="4" height="2"/>
<rect x="216" y="369" width="4" height="2"/>
<rect x="216" y="448" width="4" height="2"/>
<rect x="216" y="525" width="4" height="2"/>
<rect x="216" y="602" width="4" height="2"/>
<rect x="216" y="679" width="4" height="2"/>
<rect x="216" y="756" width="4" height="2"/>
</g>
<text class="t" transform="translate(78.2,89.6) scale(1.051,1.01)">(deg)</text>
<text class="t" transform="translate(310.0,115.4) scale(1.0284,1.0)">Steering wheel angle</text>
<text class="t" transform="translate(1396.5,76.2) scale(1.057,1.01)">(m)</text>
<text class="t" transform="translate(821.8,205.6) scale(1.0275,1.0)">Lateral Displacement</text>
<text class="t" text-anchor="end" transform="translate(199.6,161) scale(1.01,1.035)">120</text>
<text class="t" text-anchor="end" transform="translate(199.6,315.6) scale(1.01,1.035)">60</text>
<text class="t" text-anchor="end" transform="translate(199.6,471.1) scale(1.01,1.035)">0</text>
<text class="t" text-anchor="end" transform="translate(199.6,626.2) scale(1.01,1.035)">-60</text>
<text class="t" text-anchor="end" transform="translate(199.6,782.5) scale(1.01,1.035)">-120</text>
<text class="t" transform="translate(1409,153) scale(1.022,1.035)">4.0</text>
<text class="t" transform="translate(1409,316.2) scale(1.022,1.035)">3.0</text>
<text class="t" transform="translate(1409,470.3) scale(1.022,1.035)">2.0</text>
<text class="t" transform="translate(1409,621.3) scale(1.022,1.035)">1.0</text>
<text class="t" transform="translate(1409,773.4) scale(1.022,1.035)">0</text>
<text class="t" transform="translate(210.8,823.1) scale(1.04,1.035)">0</text>
<text class="t" transform="translate(475.3,823.1) scale(1.022,1.035)">1.0</text>
<text class="t" transform="translate(763.1,823.1) scale(1.03,1.035)">2.0</text>
<text class="t" transform="translate(1054.9,823.1) scale(1.03,1.035)">3.0</text>
<text class="t" transform="translate(1338.1,823.1) scale(1.03,1.035)">4.0</text>
<text class="t" transform="translate(1428.0,823.1) scale(1.0676,1.01)">(sec)</text>
<text class="t" transform="translate(89.3,698) rotate(-90)" textLength="486.5" lengthAdjust="spacing">Steering wheel angle</text>
<text class="t" transform="translate(1558,689.8) rotate(-90)" textLength="497.7" lengthAdjust="spacing">Lateral Displacement</text>
</svg>
</body></html>
